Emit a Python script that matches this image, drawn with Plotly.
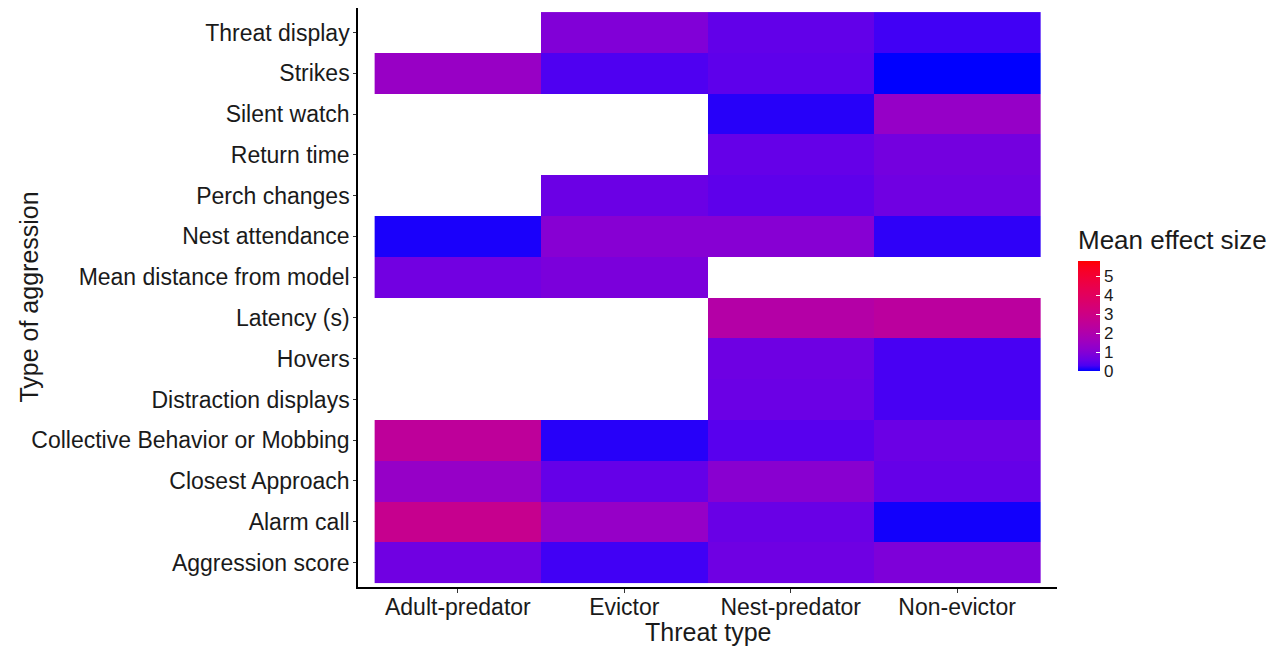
import numpy as np
import plotly.graph_objects as go

threat_types = ["Adult-predator", "Evictor", "Nest-predator", "Non-evictor"]
aggression_types = [
    "Aggression score", "Alarm call", "Closest Approach",
    "Collective Behavior or Mobbing", "Distraction displays", "Hovers",
    "Latency (s)", "Mean distance from model", "Nest attendance",
    "Perch changes", "Return time", "Silent watch", "Strikes", "Threat display",
]
# mean effect size per threat type, in the order of aggression_types (None = no data)
adult_predator = [0.70, 2.75, 1.35, 2.45, None, None, None, 0.72, 0.10, None, None, None, 1.40, None]
evictor        = [0.25, 1.35, 0.55, 0.15, None, None, None, 0.85, 1.05, 0.62, None, None, 0.33, 0.95]
nest_predator  = [0.68, 0.60, 1.10, 0.42, 0.62, 0.66, 2.15, None, 1.05, 0.48, 0.55, 0.15, 0.48, 0.52]
non_evictor    = [0.90, 0.07, 0.55, 0.62, 0.28, 0.28, 2.35, None, 0.18, 0.70, 0.75, 1.35, 0.00, 0.25]
scale_min, scale_max = 0.0, 5.8
cbar_ticks = [0, 1, 2, 3, 4, 5]

columns = [adult_predator, evictor, nest_predator, non_evictor]
z = [[(np.nan if col[i] is None else col[i]) for col in columns] for i in range(len(aggression_types))]


# blue -> red gradient interpolated in CIELAB (like ggplot2's scale_fill_gradient)
def srgb_to_lab(rgb):
    c = np.array(rgb, float) / 255.0
    c = np.where(c <= 0.04045, c / 12.92, ((c + 0.055) / 1.055) ** 2.4)
    M = np.array([[0.4124, 0.3576, 0.1805], [0.2126, 0.7152, 0.0722], [0.0193, 0.1192, 0.9505]])
    xyz = M @ c / np.array([0.95047, 1.0, 1.08883])
    f = np.where(xyz > 0.008856, np.cbrt(xyz), 7.787 * xyz + 16 / 116)
    return np.array([116 * f[1] - 16, 500 * (f[0] - f[1]), 200 * (f[1] - f[2])])


def lab_to_srgb(lab):
    L, a, b = lab
    fy = (L + 16) / 116
    fx = fy + a / 500
    fz = fy - b / 200
    f = np.array([fx, fy, fz])
    xyz = np.where(f ** 3 > 0.008856, f ** 3, (f - 16 / 116) / 7.787) * np.array([0.95047, 1.0, 1.08883])
    Mi = np.array([[3.2406, -1.5372, -0.4986], [-0.9689, 1.8758, 0.0415], [0.0557, -0.2040, 1.0570]])
    c = np.clip(Mi @ xyz, 0, 1)
    c = np.where(c <= 0.0031308, 12.92 * c, 1.055 * c ** (1 / 2.4) - 0.055)
    return tuple(int(round(v * 255)) for v in np.clip(c, 0, 1))


lab_lo = srgb_to_lab((0, 0, 255))
lab_hi = srgb_to_lab((255, 0, 0))
colorscale = []
for t in np.linspace(0, 1, 21):
    r, g, b = lab_to_srgb(lab_lo + (lab_hi - lab_lo) * t)
    colorscale.append([float(t), f"rgb({r},{g},{b})"])

font_family = "Liberation Sans, Arial, sans-serif"
text_color = "#1a1a1a"

fig = go.Figure(
    go.Heatmap(
        x=threat_types,
        y=aggression_types,
        z=z,
        zmin=scale_min,
        zmax=scale_max,
        colorscale=colorscale,
        hoverongaps=False,
        colorbar=dict(
            title=dict(text="Mean effect size", side="top",
                       font=dict(size=26, color=text_color, family=font_family)),
            thickness=22,
            thicknessmode="pixels",
            len=145,
            lenmode="pixels",
            x=1.03,
            xanchor="left",
            y=0.373,
            yanchor="bottom",
            tickvals=cbar_ticks,
            tickprefix="\u00a0\u00a0",
            ticks="inside",
            ticklen=4,
            tickcolor="white",
            tickwidth=1,
            outlinewidth=0,
            tickfont=dict(size=17, color=text_color, family=font_family),
            ypad=0,
            xpad=0,
        ),
    )
)

fig.update_layout(
    width=1272,
    height=647,
    margin=dict(l=358, r=215, t=8, b=60, autoexpand=False),
    paper_bgcolor="white",
    plot_bgcolor="white",
    font=dict(family=font_family, color=text_color),
    annotations=[
        dict(text="Type of aggression", textangle=-90, xref="paper", yref="paper",
             x=-0.472, y=0.5, xanchor="center", yanchor="middle", showarrow=False,
             font=dict(size=25, color=text_color)),
        dict(text="Threat type", xref="paper", yref="paper",
             x=0.5, y=-0.078, xanchor="center", yanchor="middle", showarrow=False,
             font=dict(size=25, color=text_color)),
    ],
)
fig.update_xaxes(
    range=[-0.6, 3.6], automargin=False,
    showline=True, linecolor="black", linewidth=1.5,
    ticks="outside", ticklen=4, tickcolor="#333333", tickwidth=1,
    ticklabelstandoff=-5,
    tickfont=dict(size=23, color=text_color),
    showgrid=False, zeroline=False,
)
fig.update_yaxes(
    range=[-0.6, 13.6], automargin=False,
    showline=True, linecolor="black", linewidth=1.5,
    ticks="outside", ticklen=3, tickcolor="#333333", tickwidth=1,
    ticklabelstandoff=-1,
    tickfont=dict(size=23, color=text_color),
    showgrid=False, zeroline=False,
)

fig.write_html("out.html")
